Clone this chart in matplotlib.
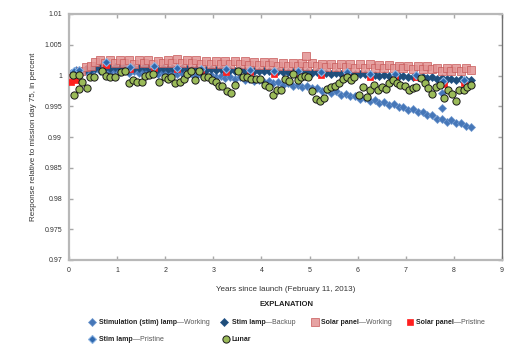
import matplotlib
matplotlib.use('Agg')
import matplotlib.pyplot as plt
from matplotlib.lines import Line2D
from matplotlib import font_manager as fm

_names = {f.name for f in fm.fontManager.ttflist}
FAM = 'Liberation Sans Narrow' if 'Liberation Sans Narrow' in _names else (
    'Liberation Sans' if 'Liberation Sans' in _names else 'DejaVu Sans')
plt.rcParams['font.family'] = [FAM, 'DejaVu Sans']

# ---------------- data ----------------
dense_years = [0.05, 0.15, 0.25, 0.35, 0.45, 0.55, 0.65, 0.75, 0.85, 0.95,
               1.05, 1.15, 1.25, 1.35, 1.45, 1.55, 1.65, 1.75, 1.85, 1.95,
               2.05, 2.15, 2.25, 2.35, 2.45, 2.55, 2.65, 2.75, 2.85, 2.95,
               3.05, 3.15, 3.25, 3.35, 3.45, 3.55, 3.65, 3.75, 3.85, 3.95,
               4.05, 4.15, 4.25, 4.35, 4.45, 4.55, 4.65, 4.75, 4.85, 4.95,
               5.05, 5.15, 5.25, 5.35, 5.45, 5.55, 5.65, 5.75, 5.85, 5.95,
               6.05, 6.15, 6.25, 6.35, 6.45, 6.55, 6.65, 6.75, 6.85, 6.95,
               7.05, 7.15, 7.25, 7.35, 7.45, 7.55, 7.65, 7.75, 7.85, 7.95,
               8.05, 8.15, 8.25, 8.35]

stim_working = [1.0004, 1.0009, 1.0004, 1.0008, 1.0006, 1.0010, 1.0007, 1.0010, 1.0006, 1.0009,
                1.0005, 1.0009, 1.0004, 1.0008, 1.0004, 1.0008, 1.0003, 1.0007, 1.0003, 1.0006,
                1.0003, 1.0005, 1.0002, 1.0004, 1.0001, 1.0003, 1.0000, 1.0002, 0.9999, 1.0001,
                0.9998, 1.0000, 0.9996, 0.9998, 0.9995, 0.9997, 0.9993, 0.9995, 0.9991, 0.9993,
                0.9989, 0.9991, 0.9987, 0.9989, 0.9985, 0.9987, 0.9983, 0.9985, 0.9981, 0.9983,
                0.9979, 0.9980, 0.9975, 0.9977, 0.9972, 0.9974, 0.9969, 0.9970, 0.9966, 0.9966,
                0.9962, 0.9963, 0.9958, 0.9960, 0.9955, 0.9957, 0.9952, 0.9953, 0.9949, 0.9949,
                0.9944, 0.9946, 0.9940, 0.9940, 0.9935, 0.9936, 0.9930, 0.9930, 0.9925, 0.9927,
                0.9922, 0.9923, 0.9918, 0.9917]
stim_working_extra_years = [7.75, 7.76]
stim_working_extra = [0.9947, 0.9971]

stim_backup = [1.0003, 1.0006, 1.0008, 1.0010, 1.0011, 1.0013, 1.0014, 1.0013, 1.0012, 1.0014,
               1.0012, 1.0014, 1.0012, 1.0013, 1.0012, 1.0014, 1.0012, 1.0013, 1.0011, 1.0013,
               1.0011, 1.0012, 1.0011, 1.0012, 1.0010, 1.0011, 1.0010, 1.0011, 1.0009, 1.0010,
               1.0009, 1.0010, 1.0008, 1.0009, 1.0008, 1.0009, 1.0007, 1.0008, 1.0007, 1.0008,
               1.0007, 1.0007, 1.0006, 1.0007, 1.0006, 1.0006, 1.0005, 1.0006, 1.0005, 1.0005,
               1.0004, 1.0005, 1.0004, 1.0004, 1.0003, 1.0004, 1.0003, 1.0003, 1.0002, 1.0003,
               1.0002, 1.0002, 1.0001, 1.0001, 1.0000, 1.0001, 0.9999, 1.0000, 0.9999, 0.9999,
               0.9998, 0.9998, 0.9997, 0.9998, 0.9996, 0.9997, 0.9995, 0.9996, 0.9994, 0.9995,
               0.9993, 0.9994, 0.9992, 0.9993]

solar_working = [0.9996, 1.0003, 1.0008, 1.0014, 1.0016, 1.0022, 1.0025, 1.0020, 1.0026, 1.0020,
                 1.0025, 1.0020, 1.0026, 1.0019, 1.0025, 1.0020, 1.0026, 1.0019, 1.0024, 1.0020,
                 1.0026, 1.0021, 1.0027, 1.0020, 1.0025, 1.0021, 1.0025, 1.0019, 1.0024, 1.0019,
                 1.0024, 1.0018, 1.0024, 1.0018, 1.0023, 1.0018, 1.0023, 1.0017, 1.0022, 1.0017,
                 1.0022, 1.0017, 1.0022, 1.0016, 1.0021, 1.0016, 1.0021, 1.0016, 1.0021, 1.0015,
                 1.0020, 1.0015, 1.0019, 1.0014, 1.0019, 1.0014, 1.0019, 1.0014, 1.0018, 1.0013,
                 1.0018, 1.0013, 1.0018, 1.0013, 1.0017, 1.0012, 1.0017, 1.0012, 1.0016, 1.0012,
                 1.0016, 1.0011, 1.0015, 1.0011, 1.0015, 1.0010, 1.0013, 1.0007, 1.0012, 1.0008,
                 1.0012, 1.0008, 1.0012, 1.0009]
solar_working_extra_years = [4.92]
solar_working_extra = [1.0032]

stim_pristine_years = [0.11, 0.21, 0.77, 1.26, 1.77, 2.25, 2.75, 3.26, 3.76, 4.26, 4.75,
                       5.23, 5.77, 6.25, 6.78, 7.21, 7.78, 8.21]
stim_pristine = [1.0008, 1.0009, 1.0022, 1.0014, 1.0016, 1.0013, 1.0011, 1.0011, 1.0009, 1.0007,
                 1.0008, 1.0006, 1.0006, 1.0002, 1.0002, 1.0001, 0.9991, 0.9992]

solar_pristine_years = [0.05, 0.10, 0.15, 0.77, 1.26, 1.77, 2.25, 2.75, 3.26, 3.76, 4.26, 4.75,
                        5.23, 5.77, 6.25, 6.78, 7.21, 7.79, 8.22]
solar_pristine = [0.9989, 0.9995, 0.9992, 1.0017, 1.0010, 1.0012, 1.0010, 1.0008, 1.0005, 1.0005,
                  1.0003, 1.0004, 1.0001, 1.0002, 0.9997, 0.9998, 0.9997, 0.9986, 0.9988]

lunar_years = [0.09, 0.11, 0.20, 0.21, 0.28, 0.37, 0.44, 0.53, 0.69, 0.77, 0.85, 0.95,
               1.09, 1.17, 1.24, 1.33, 1.42, 1.51, 1.58, 1.67, 1.75, 1.88, 1.99,
               2.06, 2.13, 2.21, 2.30, 2.38, 2.46, 2.54, 2.62, 2.71, 2.80, 2.88, 2.97,
               3.05, 3.11, 3.19, 3.28, 3.36, 3.45, 3.52, 3.62, 3.70, 3.78, 3.88, 3.98,
               4.08, 4.16, 4.24, 4.32, 4.41, 4.48, 4.57, 4.66, 4.75, 4.82, 4.90, 4.97,
               5.05, 5.13, 5.21, 5.29, 5.37, 5.45, 5.53, 5.62, 5.69, 5.78, 5.86, 5.93,
               6.02, 6.11, 6.19, 6.26, 6.34, 6.42, 6.51, 6.58, 6.66, 6.74, 6.81, 6.89, 6.98,
               7.06, 7.14, 7.22, 7.31, 7.39, 7.47, 7.55, 7.63, 7.72, 7.80, 7.88, 7.96,
               8.05, 8.11, 8.20, 8.28, 8.36]
lunar = [1.0001, 0.9969, 1.0001, 0.9978, 0.9990, 0.9979, 0.9997, 0.9997, 1.0008, 0.9999, 0.9998, 0.9998,
         1.0006, 1.0008, 0.9987, 0.9992, 0.9989, 0.9990, 1.0000, 1.0001, 1.0002, 0.9990, 0.9998,
         0.9995, 0.9997, 0.9987, 0.9990, 0.9994, 1.0002, 1.0007, 0.9992, 1.0008, 0.9998, 0.9997, 0.9993,
         0.9989, 0.9983, 0.9983, 0.9975, 0.9972, 0.9985, 1.0007, 0.9998, 0.9997, 0.9995, 0.9995, 0.9995,
         0.9984, 0.9981, 0.9969, 0.9976, 0.9976, 0.9994, 0.9991, 1.0002, 0.9993, 0.9997, 0.9999, 0.9997,
         0.9975, 0.9962, 0.9959, 0.9964, 0.9978, 0.9981, 0.9983, 0.9987, 0.9995, 0.9997, 0.9992, 0.9997,
         0.9969, 0.9981, 0.9965, 0.9977, 0.9985, 0.9977, 0.9982, 0.9978, 0.9987, 0.9992, 0.9988, 0.9984, 0.9983,
         0.9977, 0.9980, 0.9982, 0.9996, 0.9987, 0.9980, 0.9970, 0.9981, 0.9985, 0.9963, 0.9977, 0.9970,
         0.9958, 0.9976, 0.9976, 0.9981, 0.9984]

x_ticks = [0, 1, 2, 3, 4, 5, 6, 7, 8, 9]
y_ticks = [0.97, 0.975, 0.98, 0.985, 0.99, 0.995, 1.0, 1.005, 1.01]
y_tick_labels = ['0.97', '0.975', '0.98', '0.985', '0.99', '0.995', '1', '1.005', '1.01']

# ---------------- styles ----------------
sty_stim_work = dict(marker='D', ms=4.1, mfc='#4677b8', mec='#6f98cf', mew=0.5, ls='none')
sty_stim_back = dict(marker='D', ms=3.9, mfc='#1f4e79', mec='#24548a', mew=0.5, ls='none')
sty_solar_work = dict(marker='s', ms=5.4, mfc='#e29393', mec='#c85a5a', mew=0.6, ls='none', alpha=0.85)
sty_solar_pris = dict(marker='s', ms=4.6, mfc='#ff1f1f', mec='#ff1f1f', mew=0.5, ls='none')
sty_stim_pris = dict(marker='D', ms=4.0, mfc='#2e68ae', mec='#8db4e2', mew=0.8, ls='none')
sty_lunar = dict(marker='o', ms=5.2, mfc='#9bbb59', mec='#1a1a1a', mew=0.7, ls='none')

W, H = 517, 354
fig = plt.figure(figsize=(W / 100, H / 100), dpi=100)
ax = fig.add_axes([69 / W, 94 / H, 433 / W, 246 / H])
renderer = fig.canvas.get_renderer()


def width_px(s, size, weight='normal'):
    t = fig.text(0, 0, s, fontsize=size, fontweight=weight)
    w = t.get_window_extent(renderer).width
    t.remove()
    return w


def fit_size(s, target, weight='normal', base=6.0):
    return base * target / width_px(s, base, weight)


ax.plot(stim_working_extra_years, stim_working_extra, zorder=1, **sty_stim_work)
ax.plot(dense_years, stim_working, zorder=1, **sty_stim_work)
ax.plot(dense_years, stim_backup, zorder=2, **sty_stim_back)
ax.plot(dense_years, solar_working, zorder=3, **sty_solar_work)
ax.plot(solar_working_extra_years, solar_working_extra, zorder=3, **sty_solar_work)
ax.plot(solar_pristine_years, solar_pristine, zorder=4, **sty_solar_pris)
ax.plot(stim_pristine_years, stim_pristine, zorder=5, **sty_stim_pris)
ax.plot(lunar_years, lunar, zorder=6, **sty_lunar)

ax.set_xlim(0, 9)
ax.set_ylim(0.97, 1.01)
ax.set_xticks(x_ticks)
ax.set_xticklabels([str(v) for v in x_ticks])
ax.set_yticks(y_ticks)
ax.set_yticklabels(y_tick_labels)

for side in ['left', 'bottom', 'top']:
    ax.spines[side].set_color('#b8b8b8')
    ax.spines[side].set_linewidth(1.6)
ax.spines['right'].set_color('#707070')
ax.spines['right'].set_linewidth(1.0)

tick_size = min(6.0, fit_size('1.005', 18))
ax.tick_params(direction='in', length=3, width=1.0, color='#a8a8a8',
               labelsize=tick_size, labelcolor='#333333', top=True, right=True,
               labeltop=False, labelright=False, pad=5)

ylab = 'Response relative to mission day 75, in percent'
xlab = 'Years since launch (February 11, 2013)'
ax.set_ylabel(ylab, fontsize=min(6.5, fit_size(ylab, 170)), color='#333333')
ax.yaxis.set_label_coords(-0.074, 0.5)
ax.set_xlabel(xlab, fontsize=min(6.5, fit_size(xlab, 140)), color='#333333')
ax.xaxis.set_label_coords(0.501, -0.104)

# ---------------- legend (manual) ----------------
fig.text(286 / W, 1 - 305 / H, 'EXPLANATION',
         fontsize=min(6.5, fit_size('EXPLANATION', 54, 'bold')), fontweight='bold',
         ha='center', va='center', color='#222222')

entries = [
    (92.3, 322.3, sty_stim_work, 'Stimulation (stim) lamp', '\u2014Working', 99, 110),
    (224.3, 322.3, sty_stim_back, 'Stim lamp', '\u2014Backup', 231.7, 64),
    (315, 322.3, sty_solar_work, 'Solar panel', '\u2014Working', 321, 72),
    (410, 322.3, sty_solar_pris, 'Solar panel', '\u2014Pristine', 416, 70),
    (92.3, 339.3, sty_stim_pris, 'Stim lamp', '\u2014Pristine', 99, 65),
    (225.7, 339.3, sty_lunar, 'Lunar', '', 231.7, 19),
]

sizes = []
for e in entries[:5]:
    wb = width_px(e[3], 6.0, 'bold')
    wr = width_px(e[4], 6.0)
    sizes.append(6.0 * e[6] / (wb + wr))
leg_size = min(6.3, sorted(sizes)[len(sizes) // 2])

for xm, ypx, sty, bold, regular, xt, _ in entries:
    s = dict(sty)
    s.pop('ls', None)
    fig.add_artist(Line2D([xm / W], [1 - ypx / H], transform=fig.transFigure,
                          linestyle='none', **s))
    t = fig.text(xt / W, 1 - ypx / H, bold, fontsize=leg_size, fontweight='bold',
                 va='center', ha='left', color='#222222')
    if regular:
        bb = t.get_window_extent(renderer)
        fig.text(bb.x1 / W, 1 - ypx / H, regular, fontsize=leg_size, va='center',
                 ha='left', color='#555555')

fig.savefig('out.png', dpi=100)
